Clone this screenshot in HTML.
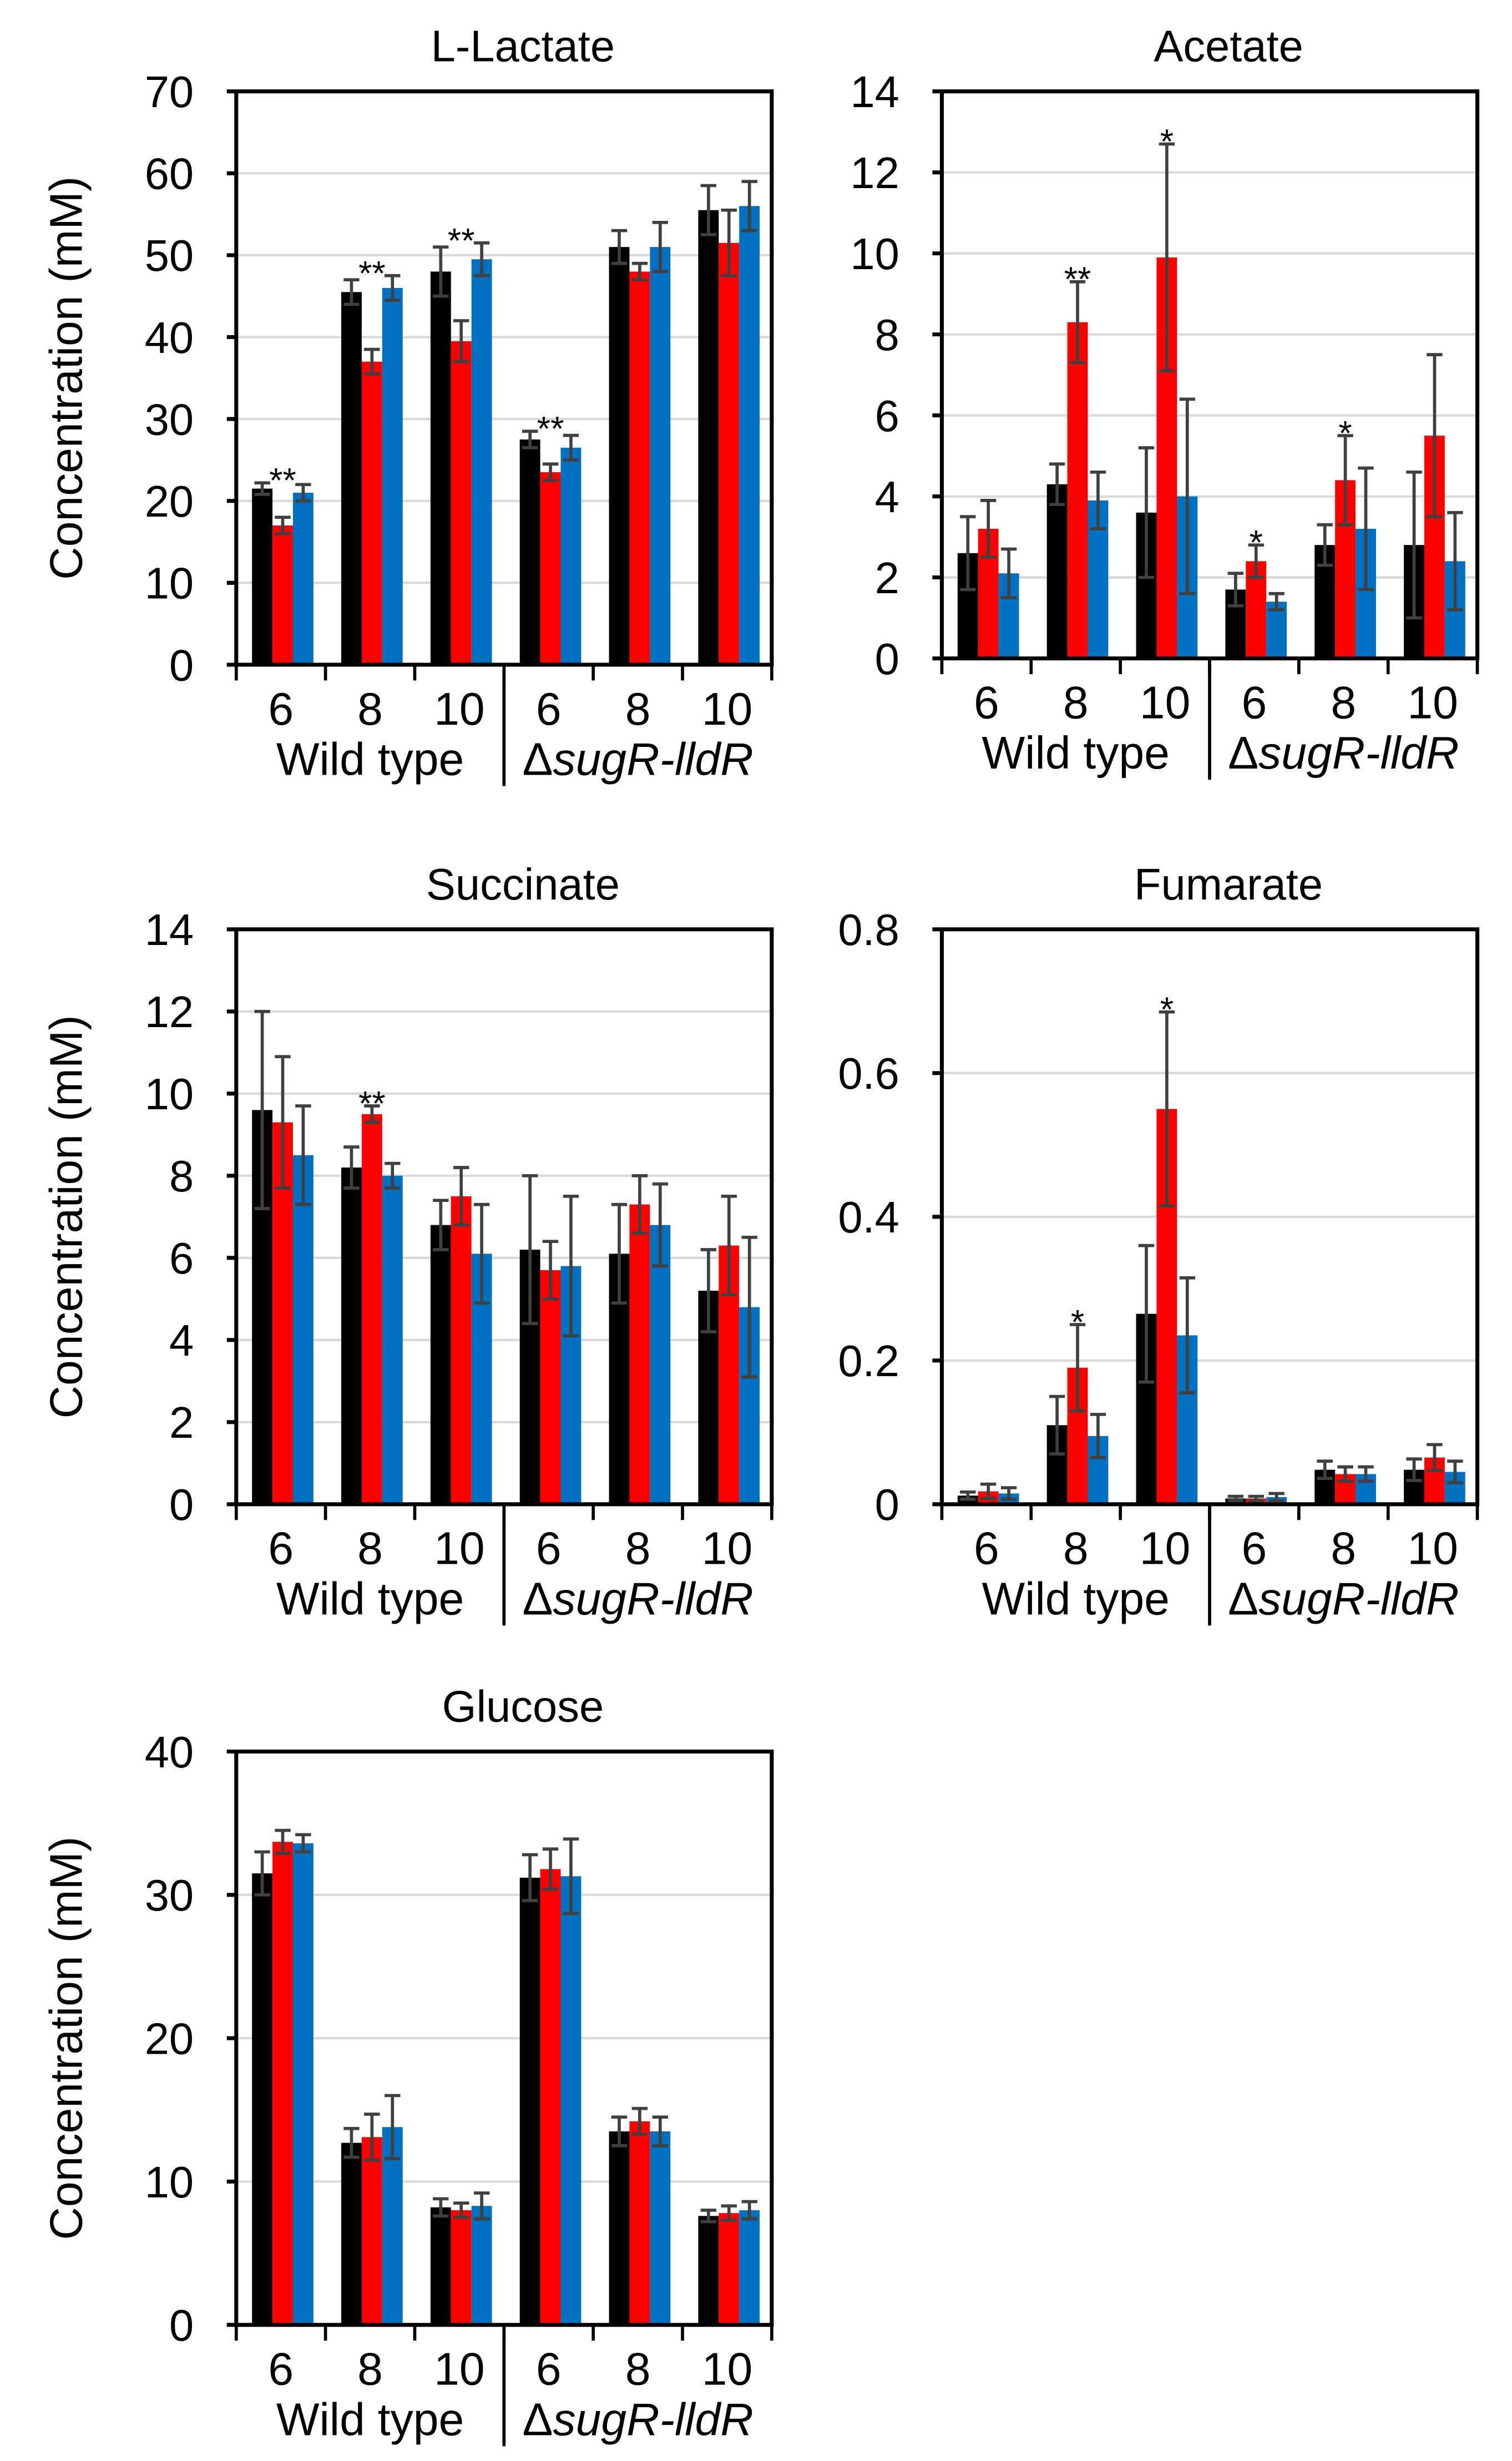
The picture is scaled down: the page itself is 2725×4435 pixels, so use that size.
<!DOCTYPE html>
<html><head><meta charset="utf-8"><style>
html,body{margin:0;padding:0;background:#fff;}
svg{display:block;}
text{font-family:"Liberation Sans",sans-serif;fill:#000;}
</style></head><body>
<svg id="fig" width="2725" height="4435" viewBox="0 0 960 1562.4" xmlns="http://www.w3.org/2000/svg"></svg>
<script>
const groups = ["6","8","10","6","8","10"];
const strains = ["Wild type","ΔsugR-lldR"];
const lactateMean = [[21.5,17,21],[45.5,37,46],[48,39.5,49.5],[27.5,23.5,26.5],[51,48,51],[55.5,51.5,56]];
const lactateErr  = [[0.7,1,1],[1.5,1.5,1.5],[3,2.5,2],[1,1,1.5],[2,1,3],[3,4,3]];
const lactateStars = ["**","**","**","**","",""];
const lactateTicks = [0,10,20,30,40,50,60,70];
const acetateMean = [[2.6,3.2,2.1],[4.3,8.3,3.9],[3.6,9.9,4.0],[1.7,2.4,1.4],[2.8,4.4,3.2],[2.8,5.5,2.4]];
const acetateErr  = [[0.9,0.7,0.6],[0.5,1.0,0.7],[1.6,2.8,2.4],[0.4,0.4,0.2],[0.5,1.1,1.5],[1.8,2.0,1.2]];
const acetateStars = ["","**","*","*","*",""];
const acetateTicks = [0,2,4,6,8,10,12,14];
const succinateMean = [[9.6,9.3,8.5],[8.2,9.5,8.0],[6.8,7.5,6.1],[6.2,5.7,5.8],[6.1,7.3,6.8],[5.2,6.3,4.8]];
const succinateErr  = [[2.4,1.6,1.2],[0.5,0.2,0.3],[0.6,0.7,1.2],[1.8,0.7,1.7],[1.2,0.7,1.0],[1.0,1.2,1.7]];
const succinateStars = ["","**","","","",""];
const succinateTicks = [0,2,4,6,8,10,12,14];
const fumarateMean = [[0.012,0.018,0.015],[0.11,0.19,0.095],[0.265,0.55,0.235],[0.008,0.008,0.01],[0.048,0.042,0.042],[0.048,0.065,0.045]];
const fumarateErr  = [[0.005,0.01,0.008],[0.04,0.06,0.03],[0.095,0.135,0.08],[0.003,0.003,0.005],[0.012,0.01,0.01],[0.015,0.018,0.015]];
const fumarateStars = ["","*","*","","",""];
const fumarateTicks = [0,0.2,0.4,0.6,0.8];
const glucoseMean = [[31.5,33.7,33.6],[12.7,13.1,13.8],[8.2,8.0,8.3],[31.2,31.8,31.3],[13.5,14.2,13.5],[7.6,7.8,8.0]];
const glucoseErr  = [[1.5,0.8,0.6],[1.0,1.6,2.2],[0.6,0.5,0.9],[1.6,1.4,2.6],[1.0,0.9,1.0],[0.4,0.5,0.6]];
const glucoseStars = ["","","","","",""];
const glucoseTicks = [0,10,20,30,40];

const NS="http://www.w3.org/2000/svg";
const svg=document.getElementById('fig');
const colors=["#000000","#ff0000","#0070c0"];
function mk(tag,attrs,parent){const e=document.createElementNS(NS,tag);for(const k in attrs)e.setAttribute(k,attrs[k]);(parent||svg).appendChild(e);return e;}

function panel(key,title,x0,x1,yTop,yBot,ticks,mean,err,stars,showYTitle){
  const g=mk('g',{});
  
  
  const ymax=ticks[ticks.length-1];
  const ys=v=>yBot-(v/ymax)*(yBot-yTop);
  const gw=(x1-x0)/groups.length;
  ticks.forEach(t=>{if(t>0&&t<ymax){const l=mk('line',{x1:x0,x2:x1,y1:ys(t),y2:ys(t),stroke:'#d9d9d9','stroke-width':1.5},g);
    }});
  mean.forEach((grp,i)=>{
    let topMax=0;
    grp.forEach((v,j)=>{
      const bx=x0+i*gw+10+j*13;
      const r=mk('rect',{x:bx,y:ys(v),width:13,height:yBot-ys(v),fill:colors[j]},g);
      
      
      const cx=bx+6.5,e=err[i][j];
      topMax=Math.max(topMax,v+e);
      const eb=mk('path',{d:`M${cx} ${ys(v-e)}V${ys(v+e)}M${cx-5} ${ys(v+e)}H${cx+5}M${cx-5} ${ys(v-e)}H${cx+5}`,stroke:'#404040',"stroke-width":2,fill:'none'},g);
      
      
    });
    if(stars[i]){
      const mx=x0+i*gw+10+19.5;
      const s=mk('text',{x:mx,y:ys(topMax)+6,'font-size':22,'text-anchor':'middle'},g);
      s.textContent=stars[i];
      
      
    }
  });
  const f=mk('rect',{x:x0,y:yTop,width:x1-x0,height:yBot-yTop,fill:'none',stroke:'#000','stroke-width':2.5},g);
  
  ticks.forEach(t=>{
    mk('line',{x1:x0-6,x2:x0,y1:ys(t),y2:ys(t),stroke:'#000','stroke-width':2.5},g);
    const tx=mk('text',{x:x0-27,y:ys(t)+10,'font-size':28,'text-anchor':'end'},g);
    tx.textContent=String(t);
    
    
  });
  for(let i=0;i<=groups.length;i++){
    const xx=x0+i*gw;
    mk('line',{x1:xx,x2:xx,y1:yBot,y2:yBot+10,stroke:'#000','stroke-width':2},g);
  }
  const mid=x0+3*gw;
  const sep=mk('line',{x1:mid,x2:mid,y1:yBot,y2:yBot+77,stroke:'#000','stroke-width':2},g);
  
  groups.forEach((c,i)=>{
    const tx=mk('text',{x:x0+i*gw+gw/2,y:yBot+38,'font-size':29,'text-anchor':'middle'},g);
    tx.textContent=c;
    
    
  });
  strains.forEach((s,k)=>{
    const tx=mk('text',{x:x0+(k*3+1.5)*gw,y:yBot+70,'font-size':29,'text-anchor':'middle'},g);
    if(k===1){tx.innerHTML='Δ<tspan font-style="italic">sugR-lldR</tspan>';}else tx.textContent=s;
    
    
  });
  const tt=mk('text',{x:(x0+x1)/2+12,y:yTop-19,'font-size':28,'text-anchor':'middle'},g);
  tt.textContent=title;
  
  
  if(showYTitle){
    const cy=(yTop+yBot)/2;
    const yt=mk('text',{x:52,y:cy,'font-size':29,'text-anchor':'middle',transform:`rotate(-90 52 ${cy})`},g);
    yt.textContent='Concentration (mM)';
    
    
  }
}
panel('lactate','L-Lactate',150,490,58,422,lactateTicks,lactateMean,lactateErr,lactateStars,true);
panel('acetate','Acetate',598,938,58,418,acetateTicks,acetateMean,acetateErr,acetateStars,false);
panel('succinate','Succinate',150,490,590,955,succinateTicks,succinateMean,succinateErr,succinateStars,true);
panel('fumarate','Fumarate',598,938,590,955,fumarateTicks,fumarateMean,fumarateErr,fumarateStars,false);
panel('glucose','Glucose',150,490,1112,1476,glucoseTicks,glucoseMean,glucoseErr,glucoseStars,true);
</script>
</body></html>
